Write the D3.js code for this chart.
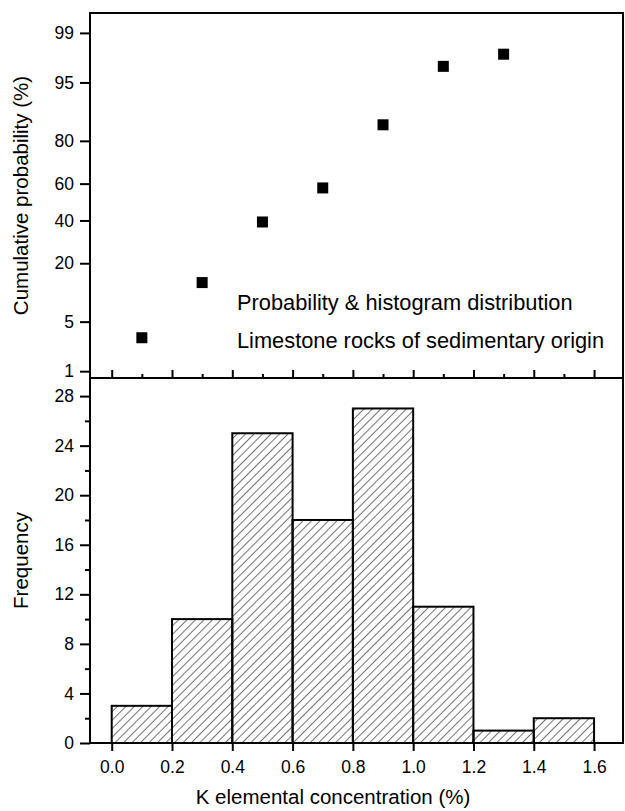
<html>
<head>
<meta charset="utf-8">
<title>K elemental concentration</title>
<script src="https://cdnjs.cloudflare.com/ajax/libs/d3/7.8.5/d3.min.js"></script>
<style>
	body { margin: 0; background: #fff; }
	text { font-family: "Liberation Sans", Arial, sans-serif; fill: #000; }
	.axis line { stroke: #000; stroke-width: 2; }
	.axis path { display: none; }
	.axis text { font-size: 17.5px; }
	.frame { stroke: #000; stroke-width: 2; fill: none; }
	.title { font-size: 20.5px; }
	.note { font-size: 21.8px; }
	.bar { stroke: #000; stroke-width: 2; }
</style>
</head>
<body>
<div id="chart"></div>
<script>

	// histogram bins
	var binLo = [0.0, 0.2, 0.4, 0.6, 0.8, 1.0, 1.2, 1.4];
	var binHi = [0.2, 0.4, 0.6, 0.8, 1.0, 1.2, 1.4, 1.6];
	var counts = [3, 10, 25, 18, 27, 11, 1, 2];

	// cumulative probability points (%)
	var probX = [0.1, 0.3, 0.5, 0.7, 0.9, 1.1, 1.3];
	var probY = [3.1, 13.4, 39.2, 57.7, 85.6, 96.9, 97.9];

	// tick labels
	var probTicks = [1, 5, 20, 40, 60, 80, 95, 99];
	var freqTicks = [0, 4, 8, 12, 16, 20, 24, 28];
	var freqMinor = [2, 6, 10, 14, 18, 22, 26];
	var xTicks = [0.0, 0.2, 0.4, 0.6, 0.8, 1.0, 1.2, 1.4, 1.6];
	var xMinor = [0.1, 0.3, 0.5, 0.7, 0.9, 1.1, 1.3, 1.5];

	var width = 625, height = 811;
	// panel edges (note: "top" is taken by window.top)
	var padL = 90, padR = 623, padT = 13, padM = 378, padB = 743;

	// inverse normal cdf (Acklam) for the probability axis
	function probit(p) {
		var a = [-3.969683028665376e+01, 2.209460984245205e+02, -2.759285104469687e+02, 1.383577518672690e+02, -3.066479806614716e+01, 2.506628277459239e+00];
		var b = [-5.447609879822406e+01, 1.615858368580409e+02, -1.556989798598866e+02, 6.680131188771972e+01, -1.328068155288572e+01];
		var c = [-7.784894002430293e-03, -3.223964580411365e-01, -2.400758277161838e+00, -2.549671010115447e+00, 4.374664141464968e+00, 2.938163982698783e+00];
		var d = [7.784695709041462e-03, 3.224671290700398e-01, 2.445134137142996e+00, 3.754408661907416e+00];
		var plow = 0.02425, q, r;
		if (p < plow) {
			q = Math.sqrt(-2 * Math.log(p));
			return (((((c[0]*q+c[1])*q+c[2])*q+c[3])*q+c[4])*q+c[5]) / ((((d[0]*q+d[1])*q+d[2])*q+d[3])*q+1);
		}
		if (p > 1 - plow) {
			q = Math.sqrt(-2 * Math.log(1 - p));
			return -(((((c[0]*q+c[1])*q+c[2])*q+c[3])*q+c[4])*q+c[5]) / ((((d[0]*q+d[1])*q+d[2])*q+d[3])*q+1);
		}
		q = p - 0.5;
		r = q * q;
		return (((((a[0]*r+a[1])*r+a[2])*r+a[3])*r+a[4])*r+a[5])*q / (((((b[0]*r+b[1])*r+b[2])*r+b[3])*r+b[4])*r+1);
	}

	var svg = d3.select("#chart").append("svg")
		.attr("width", width)
		.attr("height", height);

	var defs = svg.append("defs");
	var hatch = defs.append("pattern")
		.attr("id", "hatch")
		.attr("patternUnits", "userSpaceOnUse")
		.attr("width", 6)
		.attr("height", 6)
		.attr("patternTransform", "rotate(45)");
	hatch.append("line")
		.attr("x1", 0).attr("y1", 0)
		.attr("x2", 0).attr("y2", 6)
		.attr("stroke", "#000")
		.attr("stroke-width", 1.1);

	var x = d3.scaleLinear()
		.domain([-0.072, 1.696])
		.range([padL, padR]);

	var yProb = d3.scaleLinear()
		.domain([-2.42, 2.60])
		.range([padM, padT]);

	var yFreq = d3.scaleLinear()
		.domain([0, 29.46])
		.range([padB, padM]);

	// ---- bottom panel: histogram
	svg.append("g")
		.selectAll("rect.bar")
		.data(counts)
		.enter().append("rect")
		.classed("bar", true)
		.attr("x", function(d, i) { return x(binLo[i]); })
		.attr("width", function(d, i) { return x(binHi[i]) - x(binLo[i]); })
		.attr("y", function(d) { return yFreq(d); })
		.attr("height", function(d) { return yFreq(0) - yFreq(d); })
		.attr("fill", "url(#hatch)");

	svg.append("g")
		.attr("class", "axis")
		.attr("transform", "translate(" + padL + ",0)")
		.call(d3.axisLeft(yFreq).tickValues(freqTicks).tickSize(10).tickPadding(6).tickSizeOuter(0));

	svg.append("g")
		.attr("class", "axis")
		.attr("transform", "translate(" + padL + ",0)")
		.call(d3.axisLeft(yFreq).tickValues(freqMinor).tickSize(5).tickFormat("").tickSizeOuter(0));

	svg.append("g")
		.attr("class", "axis")
		.attr("transform", "translate(0," + padB + ")")
		.call(d3.axisBottom(x).tickValues(xTicks).tickSize(8).tickPadding(10).tickFormat(d3.format(".1f")).tickSizeOuter(0));

	// ---- top panel: probability plot
	svg.append("g")
		.attr("class", "axis")
		.attr("transform", "translate(" + padL + ",0)")
		.call(d3.axisLeft(yProb)
			.tickValues(probTicks.map(function(p) { return probit(p / 100); }))
			.tickFormat(function(d, i) { return probTicks[i]; })
			.tickSize(10).tickPadding(6).tickSizeOuter(0));

	svg.append("g")
		.attr("class", "axis")
		.attr("transform", "translate(0," + padM + ")")
		.call(d3.axisTop(x).tickValues(xTicks).tickSize(8).tickFormat("").tickSizeOuter(0));

	svg.append("g")
		.attr("class", "axis")
		.attr("transform", "translate(0," + padM + ")")
		.call(d3.axisTop(x).tickValues(xMinor).tickSize(4).tickFormat("").tickSizeOuter(0));

	var sq = 11;
	svg.append("g")
		.selectAll("rect.pt")
		.data(probY)
		.enter().append("rect")
		.classed("pt", true)
		.attr("x", function(d, i) { return x(probX[i]) - sq / 2; })
		.attr("y", function(d) { return yProb(probit(d / 100)) - sq / 2; })
		.attr("width", sq)
		.attr("height", sq)
		.attr("fill", "#000");

	svg.append("text")
		.attr("class", "note")
		.attr("x", 237)
		.attr("y", 310)
		.text("Probability & histogram distribution");

	svg.append("text")
		.attr("class", "note")
		.attr("x", 237)
		.attr("y", 348)
		.text("Limestone rocks of sedimentary origin");

	// ---- frame
	svg.append("path")
		.attr("class", "frame")
		.attr("d", "M" + padL + "," + padB + "V" + padT + "H" + padR + "V" + padB + "H" + padL);
	svg.append("line")
		.attr("class", "frame")
		.attr("x1", padL).attr("x2", padR)
		.attr("y1", padM).attr("y2", padM);

	// ---- titles
	svg.append("text")
		.attr("class", "title")
		.attr("text-anchor", "middle")
		.attr("transform", "translate(28," + (padT + padM) / 2 + ")rotate(-90)")
		.text("Cumulative probability (%)");

	svg.append("text")
		.attr("class", "title")
		.attr("text-anchor", "middle")
		.attr("transform", "translate(28," + (padM + padB) / 2 + ")rotate(-90)")
		.text("Frequency");

	svg.append("text")
		.attr("class", "title")
		.attr("text-anchor", "middle")
		.attr("x", 333)
		.attr("y", 804)
		.text("K elemental concentration (%)");

</script>
</body>
</html>
